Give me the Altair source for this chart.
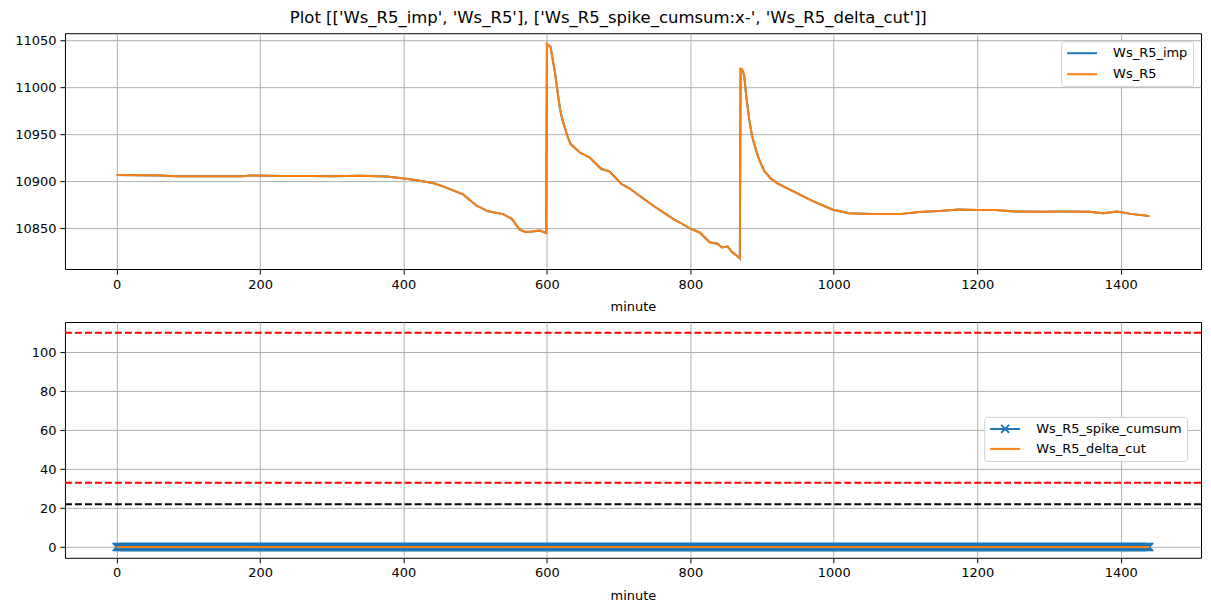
import altair as alt
import pandas as pd

# ---------------- data ----------------
top_minutes = [0, 30, 61, 84, 130, 177, 186, 230, 270, 300, 339, 377, 395, 414, 441,
               455, 483, 502, 518, 539, 551, 562, 570, 580, 590, 597, 599, 600, 603,
               605, 608, 611, 614, 618, 621, 625, 629, 633, 646, 660, 676, 687, 704,
               715, 729, 752, 776, 789, 800, 813, 827, 838, 844, 852, 859, 867, 869,
               870, 872, 875, 878, 882, 886, 892, 897, 903, 912, 922, 943, 970, 998,
               1021, 1054, 1091, 1119, 1147, 1174, 1200, 1225, 1253, 1290, 1318, 1356,
               1376, 1395, 1416, 1437, 1440]
top_values = [10906.5, 10906.3, 10906.0, 10905.3, 10905.2, 10905.3, 10906.2, 10905.5,
              10905.6, 10905.4, 10905.8, 10905.0, 10903.5, 10901.5, 10898.0, 10894.5,
              10886.0, 10874.0, 10868.0, 10865.0, 10860.0, 10848.5, 10846.0, 10846.5,
              10847.5, 10845.5, 10845.0, 11046.0, 11044.0, 11043.0, 11030.0, 11017.0,
              11000.0, 10978.0, 10967.0, 10957.0, 10947.0, 10939.5, 10930.5, 10925.0,
              10913.0, 10910.5, 10897.0, 10892.5, 10884.5, 10872.0, 10860.0, 10854.5,
              10849.5, 10845.5, 10835.0, 10833.5, 10829.5, 10830.5, 10824.0, 10819.5,
              10818.0, 11019.5, 11019.0, 11012.5, 10990.0, 10966.0, 10948.0, 10932.0,
              10921.0, 10911.0, 10903.0, 10897.5, 10889.5, 10879.0, 10870.0, 10866.0,
              10865.0, 10865.0, 10867.3, 10868.3, 10870.0, 10869.5, 10869.5, 10867.8,
              10867.5, 10867.8, 10867.6, 10866.0, 10867.8, 10865.0, 10863.2, 10863.0]
top_series = ["Ws_R5_imp", "Ws_R5"]

# bottom panel: both series are zero at every minute of the day
bottom_minutes = list(range(0, 1441))
spike_cumsum = [0] * len(bottom_minutes)
delta_cut = [0] * len(bottom_minutes)
bottom_series = ["Ws_R5_spike_cumsum", "Ws_R5_delta_cut"]

red_limits = [110, 33]
black_limits = [22]

x_ticks = [0, 200, 400, 600, 800, 1000, 1200, 1400]
top_y_ticks = [10850, 10900, 10950, 11000, 11050]
bottom_y_ticks = [0, 20, 40, 60, 80, 100]

title_text = "Plot [['Ws_R5_imp', 'Ws_R5'], ['Ws_R5_spike_cumsum:x-', 'Ws_R5_delta_cut']]"

BLUE = "#1f77b4"
ORANGE = "#ff7f0e"
FONT = "DejaVu Sans"
W, H = 1137, 236

# ---------------- frames ----------------
top_df = pd.concat([
    pd.DataFrame({"minute": top_minutes, "value": top_values, "series": s})
    for s in top_series
])
spike_df = pd.DataFrame({"minute": bottom_minutes, "value": spike_cumsum,
                         "series": bottom_series[0]})
delta_df = pd.DataFrame({"minute": bottom_minutes, "value": delta_cut,
                         "series": bottom_series[1]})
bot_df = pd.concat([spike_df, delta_df])
# legend-only rows (no value -> nothing drawn, only the legend entries)
legend_df = pd.DataFrame({"minute": [None, None], "value": [None, None],
                          "lg": bottom_series})
red_df = pd.DataFrame({"y": red_limits})
black_df = pd.DataFrame({"y": black_limits})

x_enc = alt.X("minute:Q", title="minute",
              scale=alt.Scale(domain=[-72, 1512], nice=False, zero=False),
              axis=alt.Axis(values=x_ticks, format="d"))

# legend glyphs: a 30px line (drawn to the right of a 12px symbol box) and the same with an "x"
line_sym = "M-1,0L4,0"
line_x_sym = "M-1,0L4,0M0.833,-0.667L2.167,0.667M0.833,0.667L2.167,-0.667"
cross = "M-1,-1L1,1M-1,1L1,-1"

legend_common = dict(
    orient="none", title=None, symbolSize=144, symbolStrokeWidth=2,
    labelFontSize=13, labelFont=FONT, labelColor="black", labelOffset=33,
    padding=5, strokeColor="#d0d0d0", fillColor="white",
    cornerRadius=3,
)

# ---------------- top panel ----------------
top_y = alt.Y("value:Q", title=None,
              scale=alt.Scale(domain=[10806.6, 11057.4], nice=False, zero=False),
              axis=alt.Axis(values=top_y_ticks, format="d"))

top = alt.Chart(top_df).mark_line(strokeWidth=2, clip=True).encode(
    x=x_enc, y=top_y,
    color=alt.Color("series:N",
                    scale=alt.Scale(domain=top_series, range=[BLUE, ORANGE]),
                    legend=alt.Legend(symbolType=line_sym, legendX=997, legendY=8,
                                      rowPadding=7, **legend_common)),
    order=alt.Order("minute:Q"),
).properties(width=W, height=H)

# ---------------- bottom panel ----------------
bot_y = alt.Y("value:Q", title=None,
              scale=alt.Scale(domain=[-5.5, 115.5], nice=False, zero=False),
              axis=alt.Axis(values=bottom_y_ticks, format="d"))

spike_points = alt.Chart(spike_df).mark_point(
    shape=cross, filled=False, size=64, strokeWidth=1.4, opacity=1,
    color=BLUE, clip=True
).encode(x=x_enc, y=bot_y)

bot_lines = alt.Chart(bot_df).mark_line(strokeWidth=2, clip=True).encode(
    x=x_enc, y=bot_y,
    color=alt.Color("series:N",
                    scale=alt.Scale(domain=bottom_series, range=[BLUE, ORANGE]),
                    legend=None),
    order=alt.Order("minute:Q"),
)

bot_legend = alt.Legend(legendX=920, legendY=95, rowPadding=4, **legend_common)
legend_layer = alt.Chart(legend_df).mark_point(filled=False, strokeWidth=2, opacity=1,
                                               clip=True).encode(
    x=alt.X("minute:Q"), y=alt.Y("value:Q"),
    color=alt.Color("lg:N",
                    scale=alt.Scale(domain=bottom_series, range=[BLUE, ORANGE]),
                    legend=bot_legend),
    shape=alt.Shape("lg:N",
                    scale=alt.Scale(domain=bottom_series, range=[line_x_sym, line_sym]),
                    legend=bot_legend),
)

red_rules = alt.Chart(red_df).mark_rule(color="#ff0000", strokeWidth=2,
                                        strokeDash=[7, 3]).encode(y=alt.Y("y:Q"))
black_rules = alt.Chart(black_df).mark_rule(color="black", strokeWidth=2,
                                            strokeDash=[7, 3]).encode(y=alt.Y("y:Q"))

bottom = alt.layer(red_rules, black_rules, spike_points, bot_lines, legend_layer).resolve_scale(
    color="independent", shape="independent"
).properties(width=W, height=H)

chart = alt.vconcat(top, bottom, spacing=6).resolve_scale(
    color="independent", shape="independent"
).properties(
    title=alt.TitleParams(title_text, anchor="middle", fontSize=16.5, font=FONT,
                          fontWeight="normal", color="black", offset=6),
    padding={"left": 6, "top": 2, "right": 0, "bottom": 0},
).configure_view(stroke="black", strokeWidth=1).configure_axis(
    domain=False, grid=True, gridColor="#b0b0b0", gridWidth=1,
    tickColor="black", tickSize=5, tickWidth=1,
    labelFont=FONT, labelFontSize=13, labelColor="black", labelPadding=4,
    titleFont=FONT, titleFontSize=13, titleFontWeight="normal", titleColor="black",
    titlePadding=10,
)

chart.save("out.html", embed_options={"renderer": "svg", "actions": False})
